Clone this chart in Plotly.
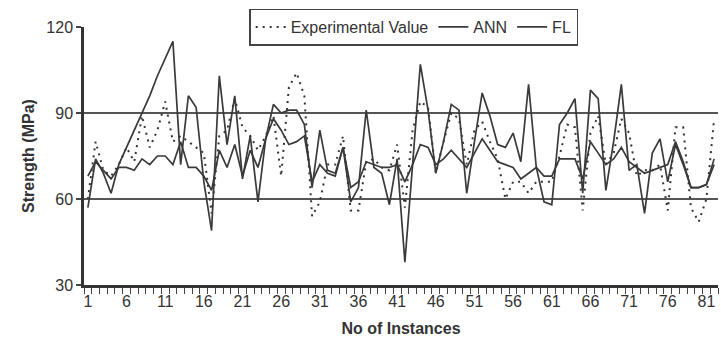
import plotly.graph_objects as go

instances = list(range(1, 83))

experimental = [60, 80, 70, 68, 72, 78, 73, 89, 78, 84,
                94, 80, 82, 80, 78, 76, 55, 82, 84, 95,
                85, 82, 77, 82, 89, 68, 99, 104, 96, 54,
                59, 72, 72, 82, 56, 56, 73, 74, 71, 70,
                79, 57, 84, 94, 92, 69, 80, 90, 88, 72,
                84, 87, 80, 74, 60, 66, 66, 62, 66, 66,
                66, 75, 86, 85, 56, 83, 89, 72, 76, 88,
                83, 68, 70, 70, 72, 56, 85, 85, 57, 52,
                60, 88]

ann = [57, 74, 69, 62, 72, 78, 84, 90, 96, 103,
       109, 115, 72, 96, 92, 66, 49, 103, 79, 96,
       67, 82, 59, 81, 93, 90, 91, 91, 86, 64,
       84, 70, 69, 78, 59, 64, 91, 71, 69, 58,
       74, 38, 72, 107, 91, 69, 80, 93, 91, 62,
       80, 97, 89, 79, 78, 83, 73, 100, 71, 59,
       58, 86, 90, 95, 62, 98, 95, 63, 80, 100,
       70, 72, 55, 76, 81, 66, 79, 72, 64, 64,
       65, 74]

fl = [68, 73, 70, 67, 71, 71, 70, 74, 72, 75,
      75, 72, 80, 71, 71, 68, 63, 77, 71, 79,
      68, 77, 71, 81, 88, 84, 79, 80, 82, 66,
      72, 69, 68, 78, 64, 66, 73, 72, 71, 71,
      72, 66, 72, 79, 78, 72, 74, 77, 74, 71,
      76, 81, 77, 73, 72, 71, 67, 69, 71, 68,
      68, 74, 74, 74, 67, 80, 76, 72, 74, 78,
      73, 71, 69, 70, 71, 72, 80, 73, 64, 64,
      65, 72]

x_tick_start = 1
x_tick_step = 5
y_tick_vals = [30, 60, 90, 120]

line_col = "#3a3a3a"
grid_col = "#555555"
font_fam = "Liberation Sans, Arial, sans-serif"

fig = go.Figure()
fig.add_trace(go.Scatter(x=instances, y=experimental, mode="lines",
                         name="Experimental Value",
                         line=dict(color="#333333", width=2, dash="2px,5px")))
fig.add_trace(go.Scatter(x=instances, y=ann, mode="lines", name="ANN",
                         line=dict(color=line_col, width=1.7)))
fig.add_trace(go.Scatter(x=instances, y=fl, mode="lines", name="FL",
                         line=dict(color=line_col, width=1.7)))

fig.update_layout(
    width=721, height=347,
    margin=dict(l=84, r=3, t=27, b=62),
    paper_bgcolor="white", plot_bgcolor="white",
    font=dict(family=font_fam, color="#333333"),
    showlegend=True,
    legend=dict(orientation="h", x=0.52, xanchor="center", y=1.0, yanchor="middle",
                bgcolor="white", bordercolor="#444444", borderwidth=1.5,
                font=dict(family="Liberation Sans Narrow, Arial Narrow, Liberation Sans, sans-serif",
                          size=16, color="#333333"),
                itemwidth=30, tracegroupgap=0),
)

fig.update_xaxes(
    range=[0.5, 82.5], automargin=False,
    tickmode="linear", tick0=x_tick_start, dtick=x_tick_step,
    ticks="", showgrid=False, zeroline=False,
    showline=True, linecolor="#333333", linewidth=2.5,
    tickfont=dict(size=16, color="#333333"),
    minor=dict(tickmode="linear", ticks="outside", ticklen=6, tickwidth=1.2,
               tickcolor="#444444", tick0=0.5, dtick=1, showgrid=False),
    title=dict(text="<b>No of Instances</b>", font=dict(size=16, color="#333333"), standoff=14),
)

fig.update_yaxes(
    range=[30, 120], automargin=False,
    tickmode="array", tickvals=y_tick_vals,
    ticks="outside", ticklen=5, tickwidth=1.5, tickcolor="#444444",
    showgrid=True, gridcolor=grid_col, gridwidth=2.4,
    zeroline=False,
    showline=True, linecolor="#333333", linewidth=2.5,
    tickfont=dict(size=16, color="#333333"),
    title=dict(text="<b>Strength (MPa)</b>", font=dict(size=16, color="#333333"), standoff=8),
)

fig.write_html("out.html", config={"displayModeBar": False},
               post_script="document.body.style.margin='0';document.body.style.overflow='hidden';")
